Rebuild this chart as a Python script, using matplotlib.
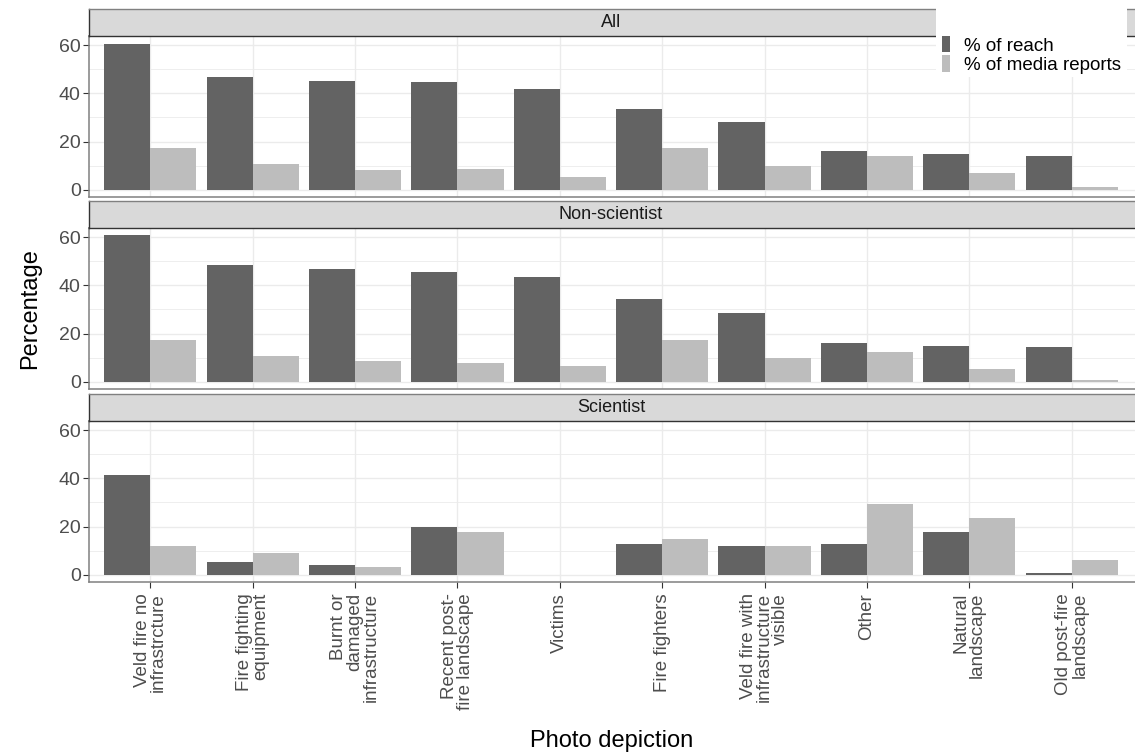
import matplotlib
matplotlib.use("Agg")
import matplotlib.pyplot as plt
import numpy as np
from matplotlib.patches import Rectangle, Patch

plt.rcParams['font.family'] = ['Liberation Sans', 'DejaVu Sans']

categories = ["Veld fire no\ninfrastrcture", "Fire fighting\nequipment",
              "Burnt or\ndamaged\ninfrastructure", "Recent post-\nfire landscape",
              "Victims", "Fire fighters", "Veld fire with\ninfrastructure\nvisible",
              "Other", "Natural\nlandscape", "Old post-fire\nlandscape"]

panels = ["All", "Non-scientist", "Scientist"]

all_reach = [60.4, 46.7, 45.0, 44.6, 41.7, 33.3, 28.3, 16.2, 15.0, 13.8]
all_media = [17.1, 10.8, 8.3, 8.7, 5.4, 17.1, 10.0, 13.8, 7.1, 1.2]
nonsci_reach = [60.8, 48.3, 46.7, 45.4, 43.3, 34.2, 28.7, 16.2, 15.0, 14.2]
nonsci_media = [17.5, 10.8, 8.7, 7.9, 6.7, 17.5, 10.0, 12.5, 5.4, 0.8]
sci_reach = [41.2, 5.1, 4.0, 19.9, 0.0, 12.6, 12.1, 12.6, 17.6, 0.9]
sci_media = [12.1, 8.9, 3.2, 17.6, 0.0, 14.8, 12.1, 29.2, 23.5, 5.9]

series_labels = ["% of reach", "% of media reports"]
colors = ["#636363", "#BDBDBD"]

data = {
    "All": (all_reach, all_media),
    "Non-scientist": (nonsci_reach, nonsci_media),
    "Scientist": (sci_reach, sci_media),
}

W, H = 1135, 755
fig = plt.figure(figsize=(W / 100, H / 100), dpi=100)

left_px, right_px = 89, 1140
layout = [(9, 36, 197), (201, 228, 389), (394, 421, 582)]

def fx(px):
    return px / W

def fy(py):
    return 1 - py / H

x = np.arange(len(categories))
bw = 0.45
border_col = "#808080"
strip_border = "#333333"
grid_col = "#EBEBEB"
# x extent so that 10 categories span 89..1133 px like the reference
span_units = 10.2
px_per_unit = (1133 - 89) / span_units
xmax = -0.6 + (right_px - left_px) / px_per_unit

for i, (name, (st, sb, pb)) in enumerate(zip(panels, layout)):
    ax = fig.add_axes([fx(left_px), fy(pb), fx(right_px - left_px), (pb - sb) / H])
    reach, media = data[name]
    ax.bar(x - bw / 2, reach, width=bw, color=colors[0], zorder=2)
    ax.bar(x + bw / 2, media, width=bw, color=colors[1], zorder=2)
    ax.set_xlim(-0.6, xmax)
    ax.set_ylim(-3.04, 63.8)
    ax.set_yticks([0, 20, 40, 60])
    ax.set_yticks([10, 30, 50], minor=True)
    ax.set_xticks(x)
    ax.grid(True, which="major", color=grid_col, linewidth=1.0, zorder=0)
    ax.grid(True, which="minor", axis="y", color=grid_col, linewidth=0.6, zorder=0)
    ax.set_axisbelow(True)
    ax.tick_params(axis="y", which="minor", length=0)
    ax.tick_params(axis="y", which="major", length=4, color="#333333",
                   labelsize=14, labelcolor="#4D4D4D", pad=2)
    for s in ax.spines.values():
        s.set_color(border_col)
        s.set_linewidth(1.1)
    if i < 2:
        ax.tick_params(axis="x", length=0, labelbottom=False)
    else:
        ax.set_xticklabels(categories, rotation=90, ha="center", va="top",
                           multialignment="right", fontsize=13.5, color="#4D4D4D",
                           linespacing=0.95)
        ax.tick_params(axis="x", length=4, color="#333333", pad=4)
    # strip
    sax = fig.add_axes([fx(left_px), fy(sb), fx(right_px - left_px), (sb - st) / H])
    sax.set_facecolor("#D9D9D9")
    sax.set_xticks([])
    sax.set_yticks([])
    for s in sax.spines.values():
        s.set_color(strip_border)
        s.set_linewidth(1.0)
    sax.spines["top"].set_color(border_col)
    sax.text(0.5 * (1133 - 89) / (right_px - left_px), 0.5, name,
             transform=sax.transAxes, ha="center", va="center",
             fontsize=13, color="#1A1A1A")

fig.text(fx(30), fy(309), "Percentage", rotation=90, ha="center", va="center",
         fontsize=17, color="black")
fig.text(fx(612), fy(741), "Photo depiction", ha="center", va="center",
         fontsize=17, color="black")

# legend background
fig.patches.append(Rectangle((fx(936), fy(77)), fx(1127 - 936), (77 - 7) / H,
                             transform=fig.transFigure, facecolor="white",
                             edgecolor="none", zorder=5))
handles = [Patch(facecolor=c, edgecolor="none") for c in colors]
leg = fig.legend(handles, series_labels, loc="upper left",
                 bbox_to_anchor=(fx(942), fy(36)), frameon=False,
                 fontsize=13.5, handlelength=0.45, handleheight=0.95,
                 handletextpad=0.75, labelspacing=0.05, borderpad=0,
                 borderaxespad=0)
leg.set_zorder(6)

fig.savefig("out.png", dpi=100)
